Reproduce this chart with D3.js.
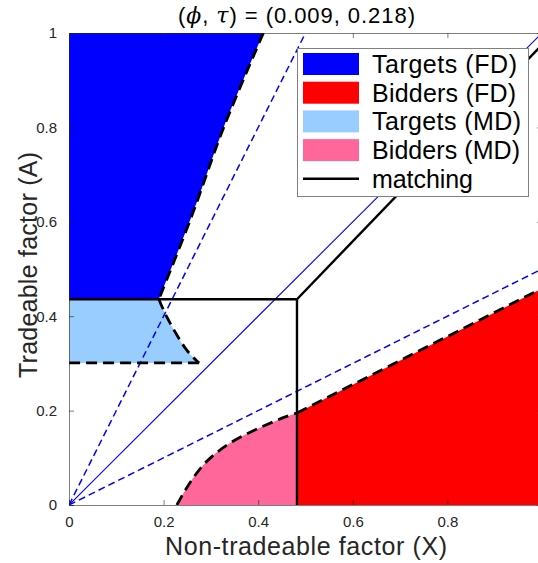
<!DOCTYPE html>
<html><head><meta charset="utf-8">
<script src="https://cdn.jsdelivr.net/npm/d3@7"></script>
<style>body{margin:0;background:#fff}svg{display:block}</style>
</head><body>
<script>
// ---- data ----
const xTicks = [0, 0.2, 0.4, 0.6, 0.8, 1];
const xTickLabels = [0, 0.2, 0.4, 0.6, 0.8];
const yTicks = [0, 0.2, 0.4, 0.6, 0.8, 1];
const matchA = 0.436;          // horizontal matching threshold (A)
const matchX = 0.482;          // vertical matching threshold (X)
const matchDiag = [[0.482, 0.436], [1, 0.975]];
const targetsFDBoundary = [[0.411, 1], [0.327, 0.8], [0.259, 0.611], [0.19, 0.436]];
const targetsMDBoundary = [[0.19, 0.436], [0.207, 0.398], [0.249, 0.328], [0.275, 0.301]];
const targetsMDFloor = 0.301;
const biddersMDBoundary = [[0.228, 0], [0.245, 0.03], [0.263, 0.058], [0.285, 0.086], [0.312, 0.111],
  [0.345, 0.134], [0.383, 0.154], [0.42, 0.171], [0.453, 0.185], [0.482, 0.195]];
const biddersFDBoundary = [[0.482, 0.195], [1, 0.459]];
const raySlopesSolid = [1];
const raySlopesDashed = [2, 0.5];
const legendLabels = ["Targets (FD)", "Bidders (FD)", "Targets (MD)", "Bidders (MD)", "matching"];
const legendColors = ["#0000ff", "#ff0000", "#99ccff", "#ff6699", null];

(function () {
const W = 538, H = 563;
const x = d3.scaleLinear().domain([0, 1]).range([69, 542]);
const y = d3.scaleLinear().domain([0, 1]).range([505, 33]);

const svg = d3.select("body").append("svg").attr("width", W).attr("height", H);
svg.append("defs").append("clipPath").attr("id", "clip")
  .append("rect").attr("x", x(0)).attr("y", y(1)).attr("width", x(1) - x(0)).attr("height", y(0) - y(1));

const line = d3.line().x(d => x(d[0])).y(d => y(d[1]));
const curve = d3.line().x(d => x(d[0])).y(d => y(d[1])).curve(d3.curveCatmullRom);
const pts = arr => arr.map(d => "L" + x(d[0]) + "," + y(d[1])).join("");
const plot = svg.append("g").attr("clip-path", "url(#clip)");

// fills
plot.append("path").attr("d", curve(targetsFDBoundary) + pts([[0, matchA], [0, 1]]) + "Z").attr("fill", legendColors[0]);
plot.append("path").attr("d", curve(targetsMDBoundary) + pts([[0, targetsMDFloor], [0, matchA]]) + "Z").attr("fill", legendColors[2]);
plot.append("path").attr("d", curve(biddersMDBoundary) + pts([[matchX, 0]]) + "Z").attr("fill", legendColors[3]);
plot.append("path").attr("d", line(biddersFDBoundary) + pts([[1, 0], [matchX, 0]]) + "Z").attr("fill", legendColors[1]);

// rays through origin
raySlopesSolid.forEach(s => {
  plot.append("path").attr("d", line([[0, 0], [Math.min(1, 1 / s), Math.min(1, s)]]))
    .attr("stroke", "#0000ff").attr("stroke-width", 1.1).attr("fill", "none");
});
raySlopesDashed.forEach(s => {
  plot.append("path").attr("d", line([[0, 0], [Math.min(1, 1 / s), Math.min(1, s)]]))
    .attr("stroke", "#0000ff").attr("stroke-width", 1.5).attr("stroke-dasharray", "7,4").attr("fill", "none");
});

// dashed boundaries
const dashStyle = sel => sel.attr("stroke", "#000").attr("stroke-width", 2.8)
  .attr("stroke-dasharray", "11,6").attr("fill", "none");
plot.append("path").attr("d", curve(targetsFDBoundary)).call(dashStyle);
plot.append("path").attr("d", curve(targetsMDBoundary)).call(dashStyle);
plot.append("path").attr("d", line([[targetsMDBoundary[targetsMDBoundary.length - 1][0], targetsMDFloor], [0, targetsMDFloor]])).call(dashStyle);
plot.append("path").attr("d", curve(biddersMDBoundary)).call(dashStyle);
plot.append("path").attr("d", line(biddersFDBoundary)).call(dashStyle);

// matching lines
const solidStyle = sel => sel.attr("stroke", "#000").attr("stroke-width", 2.4).attr("fill", "none");
plot.append("path").attr("d", line([[0, matchA], [matchX, matchA]])).call(solidStyle);
plot.append("path").attr("d", line([[matchX, 0], [matchX, matchA]])).call(solidStyle);
plot.append("path").attr("d", line(matchDiag)).call(solidStyle);

// axes
const axisColor = "#262626";
const tickFont = "'Liberation Sans', Arial, sans-serif";
const fmt = d => xTickLabels.includes(d) ? d3.format("~g")(d) : "";
const bottomAx = d3.axisBottom(x).tickValues(xTicks).tickSize(-5).tickPadding(11).tickFormat(fmt);
const leftAx = d3.axisLeft(y).tickValues(yTicks).tickSize(-5).tickPadding(12).tickFormat(d3.format("~g"));
const topAx = d3.axisTop(x).tickValues(xTicks).tickSize(-5).tickFormat("");
const rightAx = d3.axisRight(y).tickValues(yTicks).tickSize(-5).tickFormat("");
const styleAxis = g => {
  g.select(".domain").attr("stroke", axisColor).attr("stroke-width", 0.6);
  g.selectAll(".tick line").attr("stroke", axisColor).attr("stroke-width", 0.6);
  g.selectAll(".tick text").attr("fill", axisColor).style("font-family", tickFont).style("font-size", "15px");
};
svg.append("g").attr("transform", `translate(0,${y(0)})`).call(bottomAx).call(styleAxis);
svg.append("g").attr("transform", `translate(${x(0)},0)`).call(leftAx).call(styleAxis);
svg.append("g").attr("transform", `translate(0,${y(1)})`).call(topAx).call(styleAxis);
svg.append("g").attr("transform", `translate(${x(1)},0)`).call(rightAx).call(styleAxis);

const labelFont = "'Liberation Sans', Arial, sans-serif";
// title
const title = svg.append("text").attr("x", 178).attr("y", 23)
  .attr("textLength", 237).attr("lengthAdjust", "spacing")
  .style("font-family", labelFont).style("font-size", "22px").attr("fill", "#000");
title.append("tspan").text("(");
title.append("tspan").text("ϕ").style("font-style", "italic").style("font-family", "'DejaVu Serif', serif");
title.append("tspan").text(", ");
title.append("tspan").text("τ").style("font-style", "italic").style("font-family", "'DejaVu Serif', serif");
title.append("tspan").text(") = (0.009, 0.218)");

svg.append("text").attr("x", 165).attr("y", 555)
  .attr("textLength", 282).attr("lengthAdjust", "spacing")
  .style("font-family", labelFont).style("font-size", "25px").attr("fill", axisColor)
  .text("Non-tradeable factor (X)");
svg.append("text").attr("transform", "translate(37,378) rotate(-90)")
  .attr("textLength", 226).attr("lengthAdjust", "spacing")
  .style("font-family", labelFont).style("font-size", "25px").attr("fill", axisColor)
  .text("Tradeable factor (A)");

// legend
const legendWidths = [145, 144, 149, 148, 101];
const lg = svg.append("g");
lg.append("rect").attr("x", 297.5).attr("y", 48.5).attr("width", 231).attr("height", 148)
  .attr("fill", "#fff").attr("stroke", "#808080").attr("stroke-width", 1);
legendLabels.forEach((lab, i) => {
  const cy = 64 + i * 28.7;
  if (legendColors[i]) {
    lg.append("rect").attr("x", 303).attr("y", cy - 11).attr("width", 56).attr("height", 22).attr("fill", legendColors[i]);
  } else {
    lg.append("line").attr("x1", 303).attr("x2", 359).attr("y1", cy).attr("y2", cy).attr("stroke", "#000").attr("stroke-width", 2.4);
  }
  lg.append("text").attr("x", 372).attr("y", cy + 9)
    .attr("textLength", legendWidths[i]).attr("lengthAdjust", "spacing")
    .style("font-family", labelFont).style("font-size", "25px")
    .attr("fill", "#000").text(lab);
});
})();
</script>
</body></html>
